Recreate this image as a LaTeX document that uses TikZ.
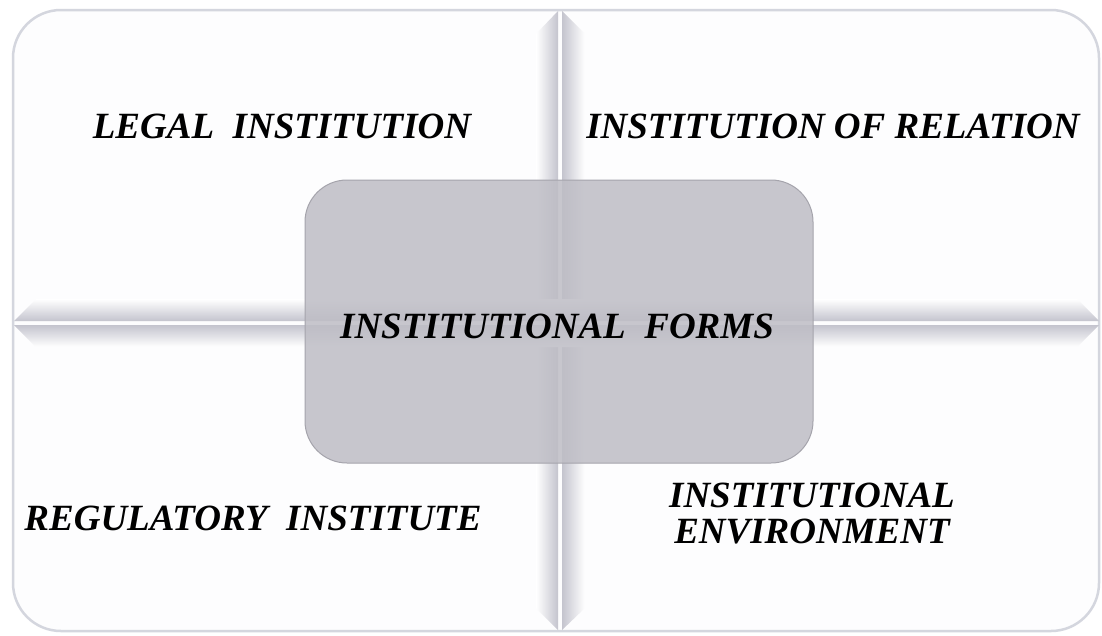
\documentclass[tikz,border=0pt]{standalone}
\usepackage{fontspec}
\setmainfont{Liberation Serif}
\definecolor{groove}{RGB}{196,196,206}
\definecolor{frameline}{RGB}{212,214,222}
\definecolor{panelfill}{RGB}{253,253,254}
\definecolor{boxfill}{RGB}{190,189,197}
\definecolor{boxline}{RGB}{165,164,172}
\begin{document}
\begin{tikzpicture}[x=1pt,y=-1pt,
  lbl/.style={font=\fontsize{37}{36}\selectfont\bfseries\itshape, align=center, inner sep=0pt},
  bandshade/.style={draw=none}]
\useasboundingbox[fill=white] (0,0) rectangle (1102,635);
% outer frame
\draw[frameline, line width=2.5pt, fill=panelfill, rounded corners=48pt] (13,10) rectangle (1099,631);
% vertical groove
\shade[bandshade, left color=white, right color=groove] (536,34) -- (558,11) -- (558,630) -- (536,608) -- cycle;
\shade[bandshade, left color=groove, right color=white] (562,11) -- (585,34) -- (585,608) -- (562,630) -- cycle;
% horizontal groove
\shade[bandshade, top color=white, bottom color=groove] (36,299) -- (1077,299) -- (1099,321) -- (14,321) -- cycle;
\shade[bandshade, top color=groove, bottom color=white] (14,325) -- (1099,325) -- (1077,347) -- (36,347) -- cycle;
% central box
\draw[boxline, line width=1pt, fill=boxfill, fill opacity=0.85, rounded corners=42pt] (305,180) rectangle (813,463);
% labels
\node[lbl, anchor=base] (legal) at (282,138) {LEGAL~~INSTITUTION};
\node[lbl, anchor=base] (relation) at (833,138) {INSTITUTION OF RELATION};
\node[lbl, anchor=base] (forms) at (557,338) {INSTITUTIONAL~~FORMS};
\node[lbl, anchor=base] (regulatory) at (253,530) {REGULATORY~~INSTITUTE};
\node[lbl, anchor=center] (environment) at (812,514) {INSTITUTIONAL\\ENVIRONMENT};
\end{tikzpicture}
\end{document}
